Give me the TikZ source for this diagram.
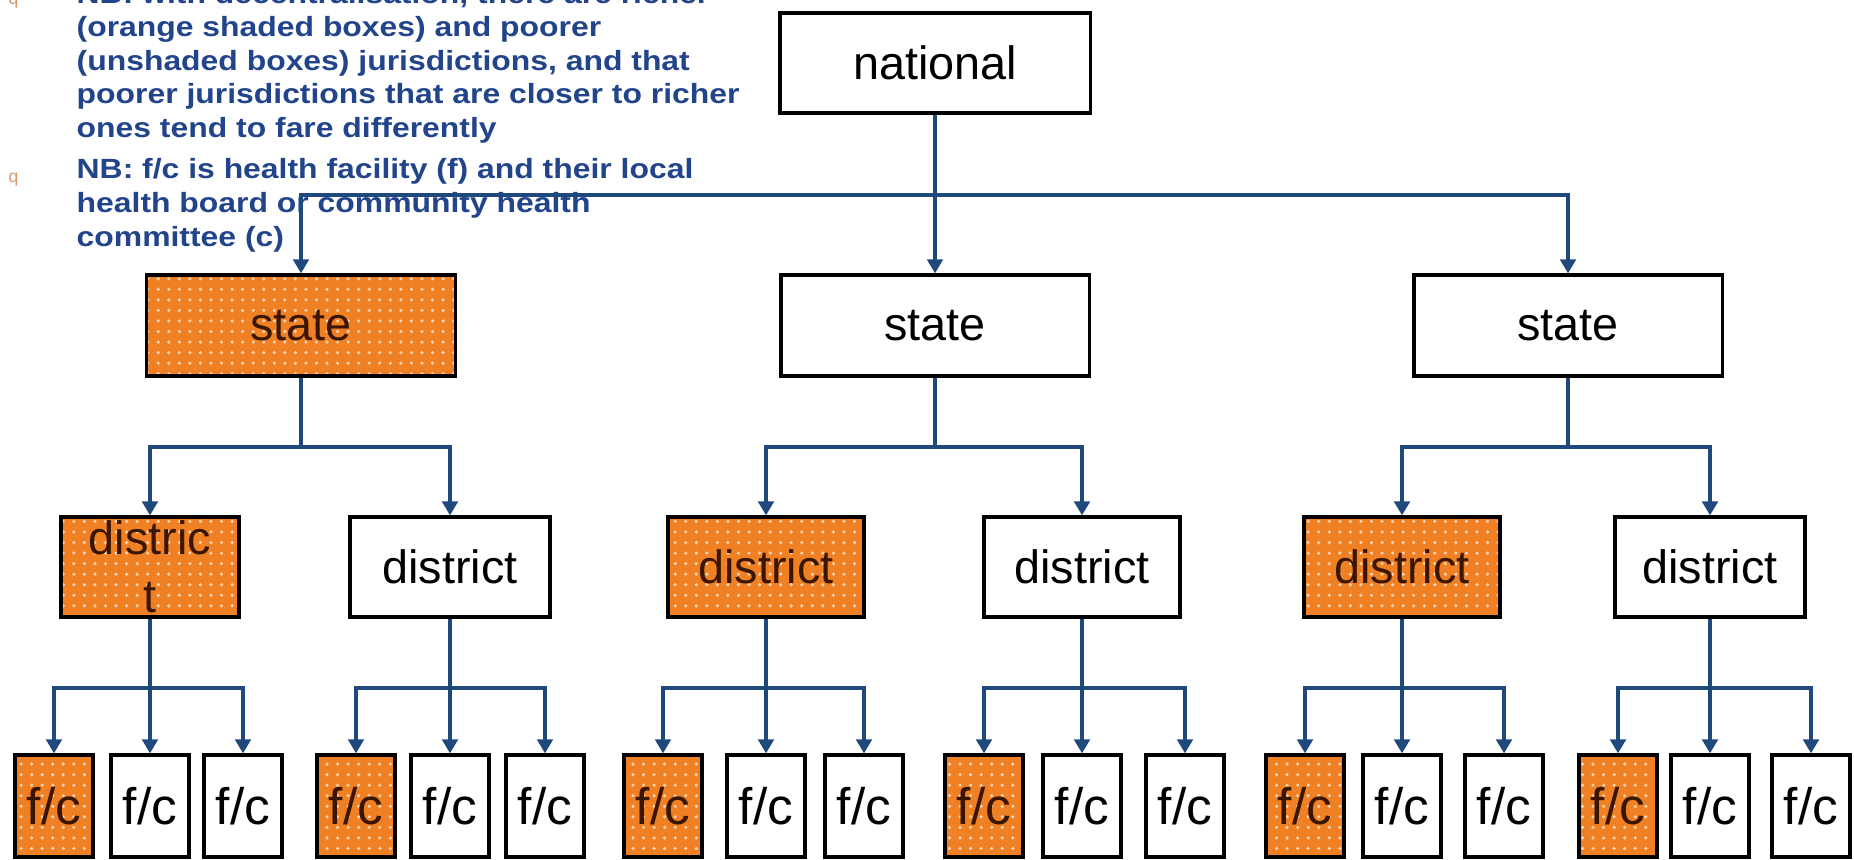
\documentclass[tikz,border=0pt]{standalone}
\usepackage{fontspec}
\setmainfont{Liberation Sans}
\newfontfamily\notefont[FakeStretch=1.148]{Liberation Sans}
\usetikzlibrary{arrows.meta,patterns}
\definecolor{linkblue}{RGB}{31,73,125}
\definecolor{noteblue}{RGB}{33,68,138}
\definecolor{rich}{RGB}{240,128,36}
\definecolor{richtext}{RGB}{58,22,0}
\definecolor{bulletc}{RGB}{215,150,110}
\tikzset{
  box/.style={draw=black, line width=0.9pt, rectangle, inner sep=0pt, align=center,
    font=\fontsize{13.3}{14}\selectfont},
  richbox/.style={box, preaction={fill=rich}, pattern=dots, pattern color=white!65!rich, text=richtext},
  poorbox/.style={box, fill=white, text=black},
  natbox/.style={minimum width=3.1cm, minimum height=1cm},
  statebox/.style={minimum width=3.08cm, minimum height=1.01cm},
  distbox/.style={minimum width=1.96cm, minimum height=1cm},
  fcbox/.style={minimum width=0.78cm, minimum height=1.02cm, font=\fontsize{14.6}{15}\selectfont},
  link/.style={draw=linkblue, line width=1pt, -{Triangle[length=4pt,width=4.4pt]}},
  note/.style={anchor=base west, inner sep=0pt, text=noteblue,
    font=\notefont\bfseries\fontsize{7.9}{9}\selectfont},
  bullet/.style={anchor=base west, inner sep=0pt, text=bulletc, font=\fontsize{5}{6}\selectfont}
}
\begin{document}
\begin{tikzpicture}[x=0.01cm,y=-0.01cm]
\useasboundingbox (0,0) rectangle (1854,859);
\clip (0,0) rectangle (1854,859);
\fill[white] (0,0) rectangle (1854,859);

% note text
\node[bullet] (b1) at (8,4) {q};
\node[note] (n1) at (76,3) {NB: with decentralisation, there are richer};
\node[note] (n2) at (76,36.5) {(orange shaded boxes) and poorer};
\node[note] (n3) at (76,70) {(unshaded boxes) jurisdictions, and that};
\node[note] (n4) at (76,103.5) {poorer jurisdictions that are closer to richer};
\node[note] (n5) at (76,137) {ones tend to fare differently};
\node[bullet] (b2) at (8,182) {q};
\node[note] (n6) at (76,178) {NB: f/c is health facility (f) and their local};
\node[note] (n7) at (76,212) {health board or community health};
\node[note] (n8) at (76,246) {committee (c)};

% rows of connectors
\coordinate (row1) at (0,195);
\coordinate (row2) at (0,447);
\coordinate (row3) at (0,688);

% national
\node[poorbox, natbox] (nat) at (935,63) {national};

% states
\node[richbox, statebox] (st1) at (301,325.5) {state};
\node[poorbox, statebox] (st2) at (935,325.5) {state};
\node[poorbox, statebox] (st3) at (1568,325.5) {state};

% districts
\node[richbox, distbox, minimum width=1.78cm, font=\fontsize{13.3}{16.5}\selectfont] (d1) at (150,567) {distric\\t};
\node[poorbox, distbox, minimum width=2cm] (d2) at (450,567) {district};
\node[richbox, distbox] (d3) at (766,567) {district};
\node[poorbox, distbox] (d4) at (1082,567) {district};
\node[richbox, distbox] (d5) at (1402,567) {district};
\node[poorbox, distbox, minimum width=1.9cm] (d6) at (1710,567) {district};

% facility / committee boxes
\node[richbox, fcbox] (f1a) at (54,806) {f/c};
\node[poorbox, fcbox] (f1b) at (150,806) {f/c};
\node[poorbox, fcbox] (f1c) at (243,806) {f/c};
\node[richbox, fcbox] (f2a) at (356,806) {f/c};
\node[poorbox, fcbox] (f2b) at (450,806) {f/c};
\node[poorbox, fcbox] (f2c) at (545,806) {f/c};
\node[richbox, fcbox] (f3a) at (663,806) {f/c};
\node[poorbox, fcbox] (f3b) at (766,806) {f/c};
\node[poorbox, fcbox] (f3c) at (864,806) {f/c};
\node[richbox, fcbox] (f4a) at (984,806) {f/c};
\node[poorbox, fcbox] (f4b) at (1082,806) {f/c};
\node[poorbox, fcbox] (f4c) at (1185,806) {f/c};
\node[richbox, fcbox] (f5a) at (1305,806) {f/c};
\node[poorbox, fcbox] (f5b) at (1402,806) {f/c};
\node[poorbox, fcbox] (f5c) at (1504,806) {f/c};
\node[richbox, fcbox] (f6a) at (1618,806) {f/c};
\node[poorbox, fcbox] (f6b) at (1710,806) {f/c};
\node[poorbox, fcbox] (f6c) at (1811,806) {f/c};

% national -> states
\draw[link] (nat.south) -- (st2.north);
\draw[link] (nat.south) -- (nat.south |- row1) -| (st1.north);
\draw[link] (nat.south) -- (nat.south |- row1) -| (st3.north);

% states -> districts
\foreach \s/\l/\r in {st1/d1/d2, st2/d3/d4, st3/d5/d6}{
  \draw[link] (\s.south) -- (\s.south |- row2) -| (\l.north);
  \draw[link] (\s.south) -- (\s.south |- row2) -| (\r.north);
}

% districts -> facilities
\foreach \d/\a/\b/\c in {d1/f1a/f1b/f1c, d2/f2a/f2b/f2c, d3/f3a/f3b/f3c, d4/f4a/f4b/f4c, d5/f5a/f5b/f5c, d6/f6a/f6b/f6c}{
  \draw[link] (\d.south) -- (\b.north);
  \draw[link] (\d.south) -- (\d.south |- row3) -| (\a.north);
  \draw[link] (\d.south) -- (\d.south |- row3) -| (\c.north);
}
\end{tikzpicture}
\end{document}
